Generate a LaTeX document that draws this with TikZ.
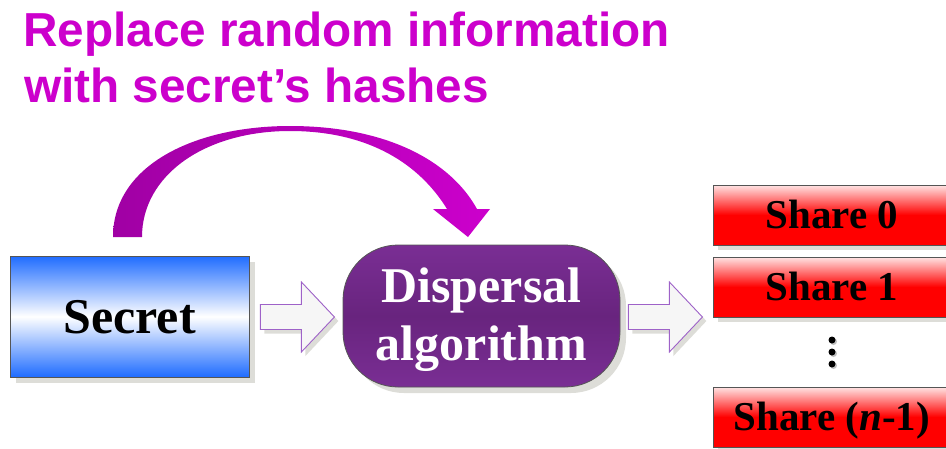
\documentclass[tikz,border=0pt]{standalone}
\usepackage{fontspec}
\setmainfont{Liberation Serif}
\newfontfamily\titlefont{Liberation Sans}
\usetikzlibrary{shadows,calc}

\definecolor{titlemag}{HTML}{CC00CC}
\definecolor{darkmag}{HTML}{A000A4}
\definecolor{secblue}{HTML}{1F6CFF}
\definecolor{algtop}{HTML}{7A2E94}
\definecolor{algmid}{HTML}{68247E}
\definecolor{arrowedge}{HTML}{9E62C8}
\definecolor{arrowfill}{HTML}{F6F6F6}
\definecolor{shadowgray}{HTML}{DDDDD8}
\definecolor{sharetop}{HTML}{FFE4E4}
\definecolor{boxedge}{HTML}{555555}

\tikzset{
  boxshadow/.style={drop shadow={shadow xshift=6pt, shadow yshift=-6pt,
      fill=shadowgray, opacity=1}},
  secretbox/.style={draw=boxedge, line width=0.8pt, inner sep=0pt,
      minimum width=239pt, minimum height=121pt,
      top color=secblue, bottom color=secblue, middle color=white,
      boxshadow, text height=34pt, text depth=0pt,
      font=\fontsize{50}{58}\selectfont\bfseries},
  algbox/.style={draw=boxedge, line width=0.8pt, inner sep=0pt,
      rounded corners=55pt, minimum width=277pt, minimum height=142pt,
      top color=algtop, bottom color=algtop, middle color=algmid,
      boxshadow},
  algtext/.style={align=center, text=white, inner sep=0pt, yshift=-3.5pt,
      font=\fontsize{50}{58}\selectfont\bfseries},
  sharebox/.style={draw=boxedge, line width=0.8pt, inner sep=0pt,
      minimum width=238pt, minimum height=60pt,
      top color=sharetop, bottom color=red, middle color=red,
      drop shadow={shadow xshift=5pt, shadow yshift=-5pt,
      fill=shadowgray, opacity=1},
      text height=27pt, text depth=0pt,
      font=\fontsize{41}{48}\selectfont\bfseries},
  titletext/.style={anchor=base west, inner sep=0pt, text=titlemag,
      font=\titlefont\bfseries\fontsize{47.7}{56}\selectfont},
  vdot/.style={circle, fill=black, inner sep=0pt, minimum size=7pt,
      drop shadow={shadow xshift=1.5pt, shadow yshift=-1.5pt,
      fill=gray!50, opacity=1}},
  hollowarrow/.pic={
    \fill[shadowgray, shift={(4,4)}]
      (0,-12.5) -- (41,-12.5) -- (41,-35) -- (74,0) -- (41,35)
      -- (41,12.5) -- (0,12.5) -- cycle;
    \filldraw[fill=arrowfill, draw=arrowedge, line width=0.9pt]
      (0,-12.5) -- (41,-12.5) -- (41,-35) -- (74,0) -- (41,35)
      -- (41,12.5) -- (0,12.5) -- cycle;
  }
}

\begin{document}
\begin{tikzpicture}[x=1pt, y=-1pt]
\useasboundingbox (0,0) rectangle (946,448);
\clip (0,0) rectangle (946,448);

% heading
\node[titletext] (title1) at (23,46) {Replace random information};
\node[titletext] (title2) at (24,102) {with secret’s hashes};

% main blocks
\node[secretbox] (secret) at (129.5,316.5) {Secret};
\node[algbox, label={[algtext]center:Dispersal\\algorithm}] (alg)
  at (481.5,316) {};

% output shares
\node[sharebox] (share0) at (832,215) {Share 0};
\node[sharebox] (share1) at (832,287) {Share 1};
\node[sharebox] (sharen) at (832,417) {Share (\textit{n}-1)};
\node[vdot] (dot1) at (832,340) {};
\node[vdot] (dot2) at (832,352) {};
\node[vdot] (dot3) at (832,364) {};

% hollow block arrows between the stages
\pic at ($(secret.east)+(11,0.5)$) {hollowarrow};
\pic at ($(alg.east)+(8,1)$) {hollowarrow};

% curved arrow from the secret over to the algorithm
\coordinate (curvestart) at (127.5,237);
\coordinate (curvetip) at (468,237);
\shade[left color=darkmag, right color=titlemag]
  ($(curvestart)+(-14.5,0)$) .. controls (113,165) and (195,126) .. (290,126)
  .. controls (385,126) and (450,160) .. (477,209)
  -- (490,209) -- (curvetip) -- (433,209) -- (447,209)
  .. controls (420,165) and (370,131) .. (290,131)
  .. controls (205,131) and (142,175) .. ($(curvestart)+(14.5,0)$) -- cycle;
\end{tikzpicture}
\end{document}
